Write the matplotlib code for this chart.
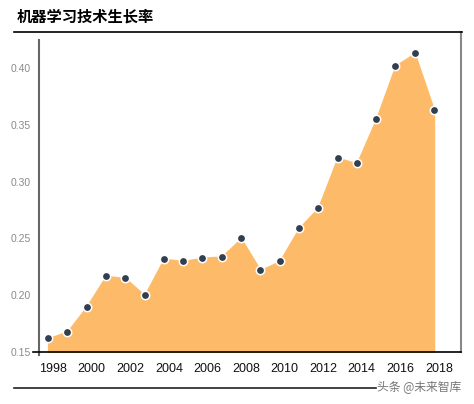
import numpy as np
import matplotlib.pyplot as plt
import matplotlib.transforms as mtransforms
from matplotlib.lines import Line2D

plt.rcParams['font.family'] = ['Liberation Sans', 'Noto Sans CJK SC', 'DejaVu Sans']

# 数据
years = list(range(1998, 2019))
rate = [0.162, 0.168, 0.190, 0.217, 0.215, 0.200, 0.232, 0.230, 0.233, 0.234,
        0.250, 0.222, 0.230, 0.259, 0.277, 0.321, 0.316, 0.355, 0.402, 0.413, 0.363]
xticks = list(range(1998, 2019, 2))
yticks = [0.15, 0.20, 0.25, 0.30, 0.35, 0.40]

fig = plt.figure(figsize=(4.74, 4.04), dpi=100)
ax = fig.add_axes([39/474, 52/404, 422/474, 320/404])

ax.fill_between(years, rate, 0.15, color='#FDBB69', linewidth=1, edgecolor='#FDBB69')
ax.plot(years, rate, linestyle='none', marker='o', markersize=6,
        markerfacecolor='#333E4F', markeredgecolor='white', markeredgewidth=1.1)

ax.set_xlim(1997.53, 2019.4)
ax.set_ylim(0.15, 0.4317)
ax.set_xticks(xticks)
ax.set_yticks(yticks)
ax.set_yticklabels([f"{v:.2f}" for v in yticks])

ax.tick_params(axis='x', length=0, pad=8, labelsize=9, labelcolor='#111111')
ax.tick_params(axis='y', length=0, pad=6, labelsize=7.5, labelcolor='#8a8a8a')
offset = mtransforms.ScaledTranslation(5/100, 0, fig.dpi_scale_trans)
for lab in ax.get_xticklabels():
    lab.set_transform(lab.get_transform() + offset)

ax.spines['top'].set_visible(False)
ax.spines['left'].set_color('#666666')
ax.spines['left'].set_linewidth(1.5)
ax.spines['left'].set_bounds(0.1475, 0.4247)
ax.spines['right'].set_color('#888888')
ax.spines['right'].set_linewidth(1.5)
ax.spines['bottom'].set_color('black')
ax.spines['bottom'].set_linewidth(1.2)
ax.spines['bottom'].set_bounds(1997.22, 2019.4)

# 标题和线
fig.text(17/474, 1 - 17/404, "机器学习技术生长率", fontsize=11, fontweight='bold',
         family=['Noto Sans CJK SC', 'DejaVu Sans'], va='center', ha='left')
fig.add_artist(Line2D([14/474, 462/474], [1 - 32/404, 1 - 32/404], color='black', linewidth=1.2))
fig.add_artist(Line2D([14/474, 376/474], [1 - 388/404, 1 - 388/404], color='#222222', linewidth=1.2))
fig.text(377/474, 1 - 388/404, "头条 @未来智库", fontsize=8.5, color='#777777',
         family=['Noto Sans CJK SC', 'DejaVu Sans'], va='center', ha='left')

plt.savefig('out.png', dpi=100)
